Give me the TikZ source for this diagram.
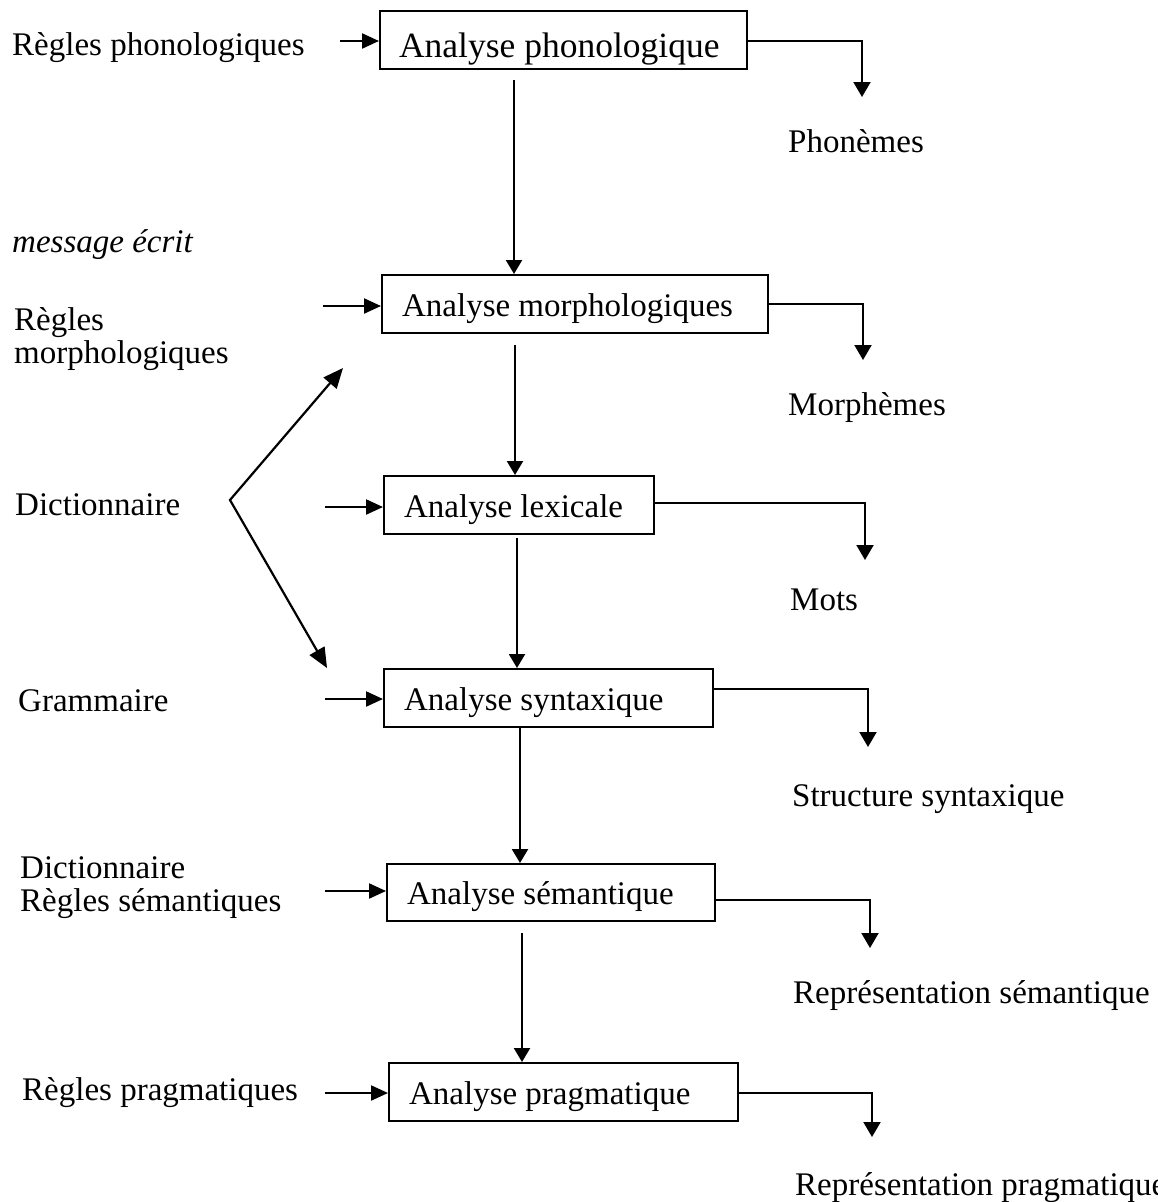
\documentclass[tikz,border=0pt]{standalone}
\usepackage{fontspec}
\setmainfont{Liberation Serif}
\usetikzlibrary{arrows.meta,calc}
\newcommand{\labfont}{\fontsize{33}{33}\selectfont}
\begin{document}
\begin{tikzpicture}[x=1pt,y=-1pt,
  txt/.style={font=\labfont, inner sep=0pt, anchor=base west},
  stage/.style={draw, line width=2.2pt, anchor=north west, inner xsep=20pt,
    inner ysep=0pt, align=flush left, font=\labfont, text height=30pt, text depth=6pt,
    minimum height=58pt},
  link/.style={line width=2.2pt, -{Triangle[length=14pt,width=16pt]}},
  feed/.style={line width=2.2pt, -{Triangle[length=17pt,width=15pt]}},
  outarr/.style={line width=2pt, -{Triangle[length=15pt,width=17pt]}},
]
\useasboundingbox (0,0) rectangle (1157,1202);

% analysis stages
\node[stage, text width=329pt, inner xsep=19pt, text height=38pt, text depth=4pt,
  font=\fontsize{35.5}{35.5}\selectfont] (b1) at (379,10) {Analyse phonologique};
\node[stage, text width=346pt] (b2) at (381,274) {Analyse morphologiques};
\node[stage, text width=230pt] (b3) at (383,475) {Analyse lexicale};
\node[stage, text width=289pt] (b4) at (383,668) {Analyse syntaxique};
\node[stage, text width=288pt, minimum height=57pt] (b5) at (386,863) {Analyse sémantique};
\node[stage, text width=309pt] (b6) at (388,1062) {Analyse pragmatique};

% knowledge sources (left)
\node[txt] (kphon) at (12,55) {Règles phonologiques};
\node[txt, font=\labfont\itshape] (msg) at (12,252) {message écrit};
\node[txt] (kmorph) at (14,330) {\begin{tabular}[t]{@{}l@{}}Règles\\morphologiques\end{tabular}};
\node[txt] (kdict) at (15,515) {Dictionnaire};
\node[txt] (kgram) at (18,711) {Grammaire};
\node[txt] (ksem) at (20,878) {\begin{tabular}[t]{@{}l@{}}Dictionnaire\\Règles sémantiques\end{tabular}};
\node[txt] (kprag) at (22,1100) {Règles pragmatiques};

% results (right)
\node[txt] (rphon) at (788,152) {Phonèmes};
\node[txt] (rmorph) at (788,415) {Morphèmes};
\node[txt] (rmots) at (790,610) {Mots};
\node[txt] (rsyn) at (792,806) {Structure syntaxique};
\node[txt] (rsem) at (793,1003) {Représentation sémantique};
\node[txt] (rprag) at (795,1195) {Représentation pragmatique};

% chain between stages
\coordinate (v1) at (514,80);
\coordinate (v2) at (515,345);
\coordinate (v3) at (517,538);
\coordinate (v4) at (520,726);
\coordinate (v5) at (522,933);
\draw[link] (v1) -- (v1 |- b2.north);
\draw[link] (v2) -- (v2 |- b3.north);
\draw[link] (v3) -- (v3 |- b4.north);
\draw[link] (v4) -- (v4 |- b5.north);
\draw[link] (v5) -- (v5 |- b6.north);

% inputs into each stage
\coordinate (i1) at (340,41);
\coordinate (i2) at (323,306);
\coordinate (i3) at (325,507);
\coordinate (i4) at (325,699);
\coordinate (i5) at (325,891);
\coordinate (i6) at (325,1093);
\draw[feed] (i1) -- (i1 -| b1.west);
\draw[feed] (i2) -- (i2 -| b2.west);
\draw[feed] (i3) -- (i3 -| b3.west);
\draw[feed] (i4) -- (i4 -| b4.west);
\draw[feed] (i5) -- (i5 -| b5.west);
\draw[feed] (i6) -- (i6 -| b6.west);

% outputs of each stage
\coordinate (o1) at (862,97);
\coordinate (o2) at (863,360);
\coordinate (o3) at (865,560);
\coordinate (o4) at (868,747);
\coordinate (o5) at (870,948);
\coordinate (o6) at (872,1137);
\draw[outarr] ([yshift=-1pt]b1.east) -| (o1);
\draw[outarr] (b2.east) -| (o2);
\draw[outarr] ([yshift=2pt]b3.east) -| (o3);
\draw[outarr] ([yshift=9pt]b4.east) -| (o4);
\draw[outarr] ([yshift=-7.5pt]b5.east) -| (o5);
\draw[outarr] ([yshift=-1pt]b6.east) -| (o6);

% the dictionary feeds two stages
\coordinate (dtop) at (343,368);
\coordinate (dvx) at (230,500);
\coordinate (dbot) at (327,668);
\draw[line width=2.2pt, {Triangle[length=20pt,width=17pt]}-{Triangle[length=20pt,width=17pt]}]
  (dtop) -- (dvx) -- (dbot);
\end{tikzpicture}
\end{document}
